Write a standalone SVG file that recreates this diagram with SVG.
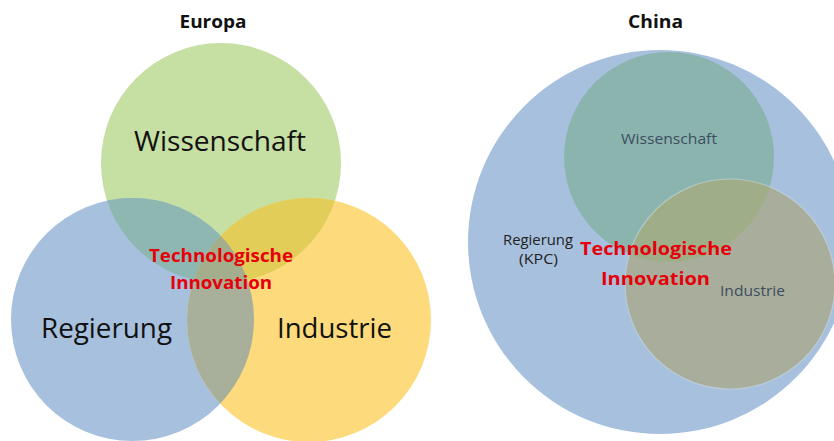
<svg xmlns="http://www.w3.org/2000/svg" width="834" height="441" viewBox="0 0 834 441">
<style>
.t{font-family:"Open Sans","Liberation Sans",sans-serif;text-anchor:middle}
.title{font-weight:bold;font-size:18px;fill:#111}
.big{font-size:28px;fill:#111}
.red{font-weight:bold;font-size:18px;fill:#e5000b}
.sm{font-size:15px}
</style>
<defs>
<clipPath id="eG"><circle cx="221" cy="163" r="120"/></clipPath>
<clipPath id="eB"><circle cx="132.5" cy="319.5" r="121.5"/></clipPath>
<clipPath id="eY"><circle cx="309" cy="320" r="122"/></clipPath>
<clipPath id="cG"><circle cx="669" cy="157" r="105"/></clipPath>
</defs>
<rect width="834" height="441" fill="#fff"/>

<g id="europa">
<text class="t title" x="213" y="28" textLength="67" lengthAdjust="spacingAndGlyphs">Europa</text>
<g id="e-wissenschaft"><circle cx="221" cy="163" r="120" fill="#c6dfa3"/></g>
<g id="e-regierung"><circle cx="132.5" cy="319.5" r="121.5" fill="#a7c0de"/></g>
<g id="e-industrie"><circle cx="309" cy="320" r="122" fill="#fdda7c"/></g>
<g id="e-overlaps">
<g clip-path="url(#eG)"><circle cx="132.5" cy="319.5" r="121.5" fill="#8fb7b2"/><circle cx="309" cy="320" r="122" fill="#e1cd57"/></g>
<g clip-path="url(#eB)"><circle cx="309" cy="320" r="122" fill="#a8b09b"/></g>
<g clip-path="url(#eB)"><g clip-path="url(#eY)"><circle cx="221" cy="163" r="120" fill="#a5ae8c"/></g></g>
</g>
<text class="t big" x="220" y="151" textLength="172" lengthAdjust="spacingAndGlyphs">Wissenschaft</text>
<text class="t big" x="106.5" y="338" textLength="131" lengthAdjust="spacingAndGlyphs">Regierung</text>
<text class="t big" x="334.5" y="338" textLength="115" lengthAdjust="spacingAndGlyphs">Industrie</text>
<text class="t red" x="221" y="262" textLength="144" lengthAdjust="spacingAndGlyphs">Technologische</text>
<text class="t red" x="221" y="289" textLength="102" lengthAdjust="spacingAndGlyphs">Innovation</text>
</g>

<g id="china">
<text class="t title" x="655.5" y="28" textLength="55" lengthAdjust="spacingAndGlyphs">China</text>
<g id="c-regierung"><circle cx="660" cy="242" r="192" fill="#a7c0de"/></g>
<g id="c-wissenschaft"><circle cx="669" cy="157" r="105" fill="#8bb4af"/></g>
<g id="c-industrie">
<circle cx="730" cy="284" r="105" fill="#a8ae9b"/>
<g clip-path="url(#cG)"><circle cx="730" cy="284" r="105" fill="#9fae89"/></g>
<circle cx="730" cy="284" r="105" fill="none" stroke="#d2dfec" stroke-width="1.2" stroke-opacity="0.5"/>
</g>
<text class="t sm" x="669" y="144" fill="#3d4d60" textLength="96" lengthAdjust="spacingAndGlyphs">Wissenschaft</text>
<text class="t sm" x="538" y="245" fill="#222" textLength="70" lengthAdjust="spacingAndGlyphs">Regierung</text>
<text class="t sm" x="538.5" y="264" fill="#222" textLength="39" lengthAdjust="spacingAndGlyphs">(KPC)</text>
<text class="t sm" x="752.5" y="296" fill="#3d4d60" textLength="65" lengthAdjust="spacingAndGlyphs">Industrie</text>
<text class="t red" x="656" y="255" font-size="19" textLength="152" lengthAdjust="spacingAndGlyphs">Technologische</text>
<text class="t red" x="655.5" y="285" font-size="19" textLength="109" lengthAdjust="spacingAndGlyphs">Innovation</text>
</g>
</svg>
